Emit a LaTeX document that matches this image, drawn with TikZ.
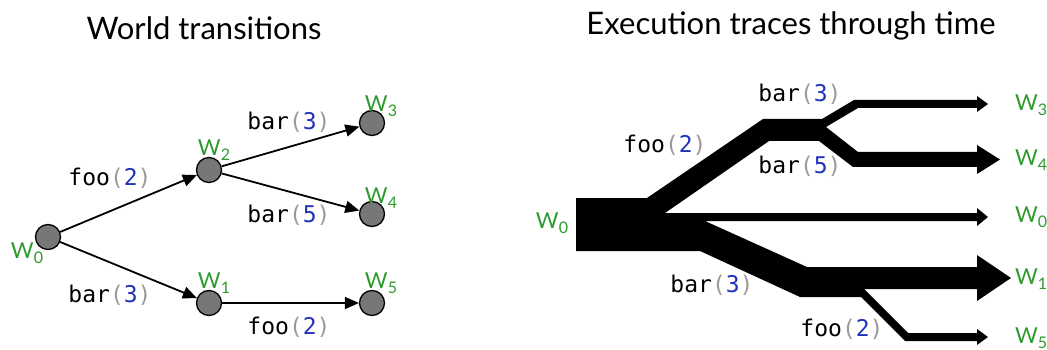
\documentclass[tikz,border=0pt]{standalone}
\usepackage{fontspec}
\setmainfont{Lato}
\newfontfamily\codefont{DejaVu Sans Mono}
\usetikzlibrary{arrows.meta}
\definecolor{wgreen}{HTML}{2E9A2E}
\definecolor{nblue}{HTML}{2233BB}
\definecolor{pgray}{HTML}{9A9A9A}
\definecolor{nodegray}{HTML}{777777}
\newcommand{\callx}[2]{{\codefont #1\textcolor{pgray}{(}\textcolor{nblue}{#2}\textcolor{pgray}{)}}}
\newcommand{\wsub}[1]{W\raisebox{-0.4ex}{\fontsize{16}{16}\selectfont #1}}
\tikzset{
  lab/.style={font=\fontsize{23}{27}\selectfont, inner sep=0pt},
  wl/.style={font=\fontsize{22}{26}\selectfont, text=wgreen, inner sep=0pt},
  ttl/.style={font=\fontsize{31}{35}\selectfont, inner sep=0pt},
  world/.style={circle, draw=black, line width=1.3pt, fill=nodegray, minimum size=25pt, inner sep=0pt},
  edge/.style={-{Triangle[length=14pt,width=12pt]}, line width=1.8pt},
  band/.style={fill=black, draw=none},
}
\begin{document}
\begin{tikzpicture}[x=1pt,y=-1pt]
\useasboundingbox (0,0) rectangle (1047,350);
% titles
\node[ttl] (t1) at (204,28) {World transitions};
\node[ttl] (t2) at (791,26) {Execution traces through time};
% left graph
\node[world] (w0) at (48,237) {};
\node[world] (w2) at (209,170) {};
\node[world] (w3) at (372,123) {};
\node[world] (w4) at (372,214) {};
\node[world] (w1) at (209,303) {};
\node[world] (w5) at (372,303) {};
\draw[edge] (w0) -- (w2);
\draw[edge] (w2) -- (w3);
\draw[edge] (w2) -- (w4);
\draw[edge] (w0) -- (w1);
\draw[edge] (w1) -- (w5);
\node[wl] (lw0) at (27,253) {\wsub{0}};
\node[wl] (lw2) at (214,150) {\wsub{2}};
\node[wl] (lw3) at (381,106) {\wsub{3}};
\node[wl] (lw4) at (381,198) {\wsub{4}};
\node[wl] (lw1) at (214,283) {\wsub{1}};
\node[wl] (lw5) at (381,283) {\wsub{5}};
\node[lab] (e02) at (110,178) {\callx{foo}{2}};
\node[lab] (e23) at (289,122) {\callx{bar}{3}};
\node[lab] (e24) at (289,215) {\callx{bar}{5}};
\node[lab] (e01) at (110,295) {\callx{bar}{3}};
\node[lab] (e15) at (289,327) {\callx{foo}{2}};
% right: execution traces (Sankey-like)
\fill[band] (576,198) -- (647,198) -- (763,119) -- (822,119) -- (854,100) -- (978,100)
  -- (978,108) -- (858,108) -- (826,127) -- (858,152) -- (978,152) -- (978,167)
  -- (853,167) -- (819,141) -- (769,141) -- (665,213) -- (978,213) -- (978,221)
  -- (705,221) -- (807,267) -- (978,267) -- (978,289) -- (864,289) -- (908,333)
  -- (978,333) -- (978,341) -- (905,341) -- (861,297) -- (800,297) -- (700,251)
  -- (576,251) -- cycle;
\fill[band] (977,96) -- (988,104) -- (977,112) -- cycle;
\fill[band] (977,145) -- (1000,159.5) -- (977,174) -- cycle;
\fill[band] (977,208) -- (988,217) -- (977,226) -- cycle;
\fill[band] (977,255) -- (1011,278) -- (977,301) -- cycle;
\fill[band] (977,329) -- (988,337) -- (977,345) -- cycle;
\node[wl] (rw0) at (552,223) {\wsub{0}};
\node[wl, anchor=west] (rw3) at (1015,105) {\wsub{3}};
\node[wl, anchor=west] (rw4) at (1015,160) {\wsub{4}};
\node[wl, anchor=west] (rw0b) at (1015,217) {\wsub{0}};
\node[wl, anchor=west] (rw1) at (1015,279) {\wsub{1}};
\node[wl, anchor=west] (rw5) at (1015,338) {\wsub{5}};
\node[lab] (r1) at (800,94) {\callx{bar}{3}};
\node[lab] (r2) at (665,145) {\callx{foo}{2}};
\node[lab] (r3) at (800,166) {\callx{bar}{5}};
\node[lab] (r4) at (712,285) {\callx{bar}{3}};
\node[lab] (r5) at (842,329) {\callx{foo}{2}};
\end{tikzpicture}
\end{document}
